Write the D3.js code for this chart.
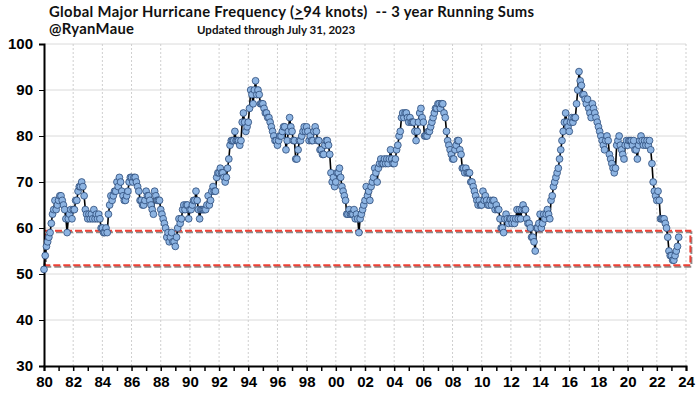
<!DOCTYPE html>
<html>
<head>
<meta charset="utf-8">
<script src="https://cdn.jsdelivr.net/npm/d3@7"></script>
<style>
  body { margin: 0; background: #fff; }
  svg { display: block; font-family: Lato, "Open Sans", sans-serif; }
  .axis text { font-size: 15px; font-weight: 700; fill: #000; }
  .axis path, .axis line { stroke: #000; }
</style>
</head>
<body>
<div id="chart"></div>
<script>
// monthly 3-year running sums of global major hurricanes, Jan 1980 .. Jul 2023
const startYear = 1980;
const runningSums = [
  51, 54, 56, 57, 58, 59, 61, 63, 64, 66, 64, 65, // 1980
  66, 67, 67, 66, 65, 64, 62, 59, 62, 63, 64, 62, // 1981
  64, 64, 66, 66, 68, 69, 69, 70, 69, 67, 64, 63, // 1982
  62, 63, 62, 63, 62, 64, 62, 63, 62, 63, 62, 60, // 1983
  60, 59, 59, 60, 59, 63, 65, 67, 66, 67, 68, 68, // 1984
  70, 69, 71, 70, 68, 67, 66, 66, 67, 68, 70, 71, // 1985
  71, 70, 71, 71, 70, 69, 68, 66, 66, 65, 65, 66, // 1986
  68, 67, 67, 66, 65, 64, 63, 68, 67, 66, 66, 66, // 1987
  64, 63, 62, 61, 60, 58, 59, 57, 58, 59, 57, 57, // 1988
  56, 58, 60, 62, 61, 62, 64, 65, 64, 65, 65, 62, // 1989
  64, 64, 65, 66, 66, 68, 66, 64, 62, 64, 64, 64, // 1990
  64, 64, 65, 67, 65, 66, 68, 69, 68, 68, 71, 72, // 1991
  72, 73, 72, 72, 71, 70, 71, 73, 75, 78, 79, 79, // 1992
  79, 81, 79, 79, 79, 78, 79, 83, 85, 83, 81, 82, // 1993
  83, 86, 90, 89, 87, 90, 92, 89, 90, 89, 87, 87, // 1994
  87, 86, 85, 85, 84, 84, 83, 82, 81, 80, 79, 79, // 1995
  78, 79, 80, 80, 81, 82, 82, 77, 79, 81, 84, 82, // 1996
  81, 79, 79, 75, 75, 77, 79, 79, 80, 81, 82, 81, // 1997
  82, 81, 79, 80, 79, 79, 81, 82, 81, 79, 79, 77, // 1998
  77, 76, 76, 78, 79, 79, 78, 76, 72, 70, 71, 69, // 1999
  70, 72, 72, 73, 71, 69, 68, 67, 66, 63, 63, 64, // 2000
  63, 63, 63, 64, 62, 63, 62, 59, 62, 63, 64, 65, // 2001
  66, 69, 67, 68, 66, 69, 70, 71, 73, 72, 70, 73, // 2002
  74, 75, 74, 74, 75, 74, 75, 74, 75, 77, 75, 74, // 2003
  74, 75, 77, 78, 80, 81, 84, 85, 84, 85, 85, 84, // 2004
  83, 84, 83, 83, 83, 81, 79, 81, 83, 85, 86, 84, // 2005
  83, 80, 80, 80, 81, 81, 82, 83, 84, 85, 86, 86, // 2006
  87, 87, 86, 87, 87, 85, 84, 81, 79, 78, 77, 76, // 2007
  75, 75, 77, 78, 79, 79, 77, 76, 73, 73, 72, 73, // 2008
  72, 72, 72, 70, 70, 69, 68, 67, 66, 65, 66, 65, // 2009
  65, 68, 66, 67, 66, 65, 65, 66, 65, 66, 66, 64, // 2010
  65, 64, 64, 62, 60, 60, 59, 62, 63, 62, 61, 62, // 2011
  62, 61, 62, 61, 62, 64, 62, 64, 62, 64, 65, 64, // 2012
  64, 62, 61, 61, 60, 58, 58, 57, 55, 60, 60, 61, // 2013
  63, 60, 61, 63, 62, 63, 64, 63, 62, 66, 67, 69, // 2014
  70, 71, 72, 73, 75, 77, 79, 81, 83, 85, 83, 82, // 2015
  81, 83, 84, 83, 84, 84, 87, 90, 94, 92, 91, 89, // 2016
  89, 88, 87, 88, 86, 85, 84, 87, 86, 85, 84, 83, // 2017
  82, 81, 80, 79, 78, 77, 79, 80, 79, 76, 75, 74, // 2018
  73, 72, 73, 78, 79, 80, 78, 77, 76, 75, 78, 79, // 2019
  78, 79, 79, 79, 78, 79, 77, 77, 75, 78, 79, 80, // 2020
  79, 78, 79, 78, 79, 78, 79, 77, 74, 70, 68, 67, // 2021
  66, 68, 66, 62, 62, 62, 62, 61, 60, 58, 55, 54, // 2022
  54, 53, 53, 54, 55, 56, 58                      // 2023
];
const yTicks = [30, 40, 50, 60, 70, 80, 90, 100];
const xLabelYears = [1980, 1982, 1984, 1986, 1988, 1990, 1992, 1994, 1996, 1998, 2000, 2002,
  2004, 2006, 2008, 2010, 2012, 2014, 2016, 2018, 2020, 2022, 2024];
const xTickLabels = ['80', '82', '84', '86', '88', '90', '92', '94', '96', '98', '00', '02',
  '04', '06', '08', '10', '12', '14', '16', '18', '20', '22', '24'];
// highlighted band (red dashed box)
const bandLow = 51.9;
const bandHigh = 59.4;

const width = 700;
const height = 394;
const margin = { top: 44, right: 14, bottom: 28, left: 44 };

const svg = d3.select('#chart')
  .append('svg')
  .attr('width', width)
  .attr('height', height);

const x = d3.scaleLinear()
  .domain([1980, 2024])
  .range([margin.left, width - margin.right]);
const y = d3.scaleLinear()
  .domain([30, 100])
  .range([height - margin.bottom, margin.top]);

const data = runningSums.map((v, i) => ({ t: startYear + i / 12, v }));

// gridlines
svg.append('g')
  .selectAll('line')
  .data(yTicks.filter(d => d > 30))
  .enter()
  .append('line')
  .attr('x1', x(1980))
  .attr('x2', x(2024))
  .attr('y1', d => y(d))
  .attr('y2', d => y(d))
  .attr('stroke', '#dadada')
  .attr('stroke-width', 1);

svg.append('g')
  .selectAll('line')
  .data(xLabelYears.slice(1))
  .enter()
  .append('line')
  .attr('x1', d => x(d))
  .attr('x2', d => x(d))
  .attr('y1', y(100))
  .attr('y2', y(30))
  .attr('stroke', '#cfcfcf')
  .attr('stroke-width', 1)
  .attr('stroke-dasharray', '2,2');

// red dashed box with gray shadow
const boxX = x(1980) + 1;
const boxW = x(2024.3) - boxX;
svg.append('rect')
  .attr('x', boxX + 1)
  .attr('y', y(bandHigh) + 1.5)
  .attr('width', boxW)
  .attr('height', y(bandLow) - y(bandHigh))
  .attr('fill', 'none')
  .attr('stroke', '#8c8c8c')
  .attr('stroke-width', 2)
  .attr('stroke-dasharray', '7,3');
svg.append('rect')
  .attr('x', boxX)
  .attr('y', y(bandHigh))
  .attr('width', boxW)
  .attr('height', y(bandLow) - y(bandHigh))
  .attr('fill', 'none')
  .attr('stroke', '#ee4035')
  .attr('stroke-width', 2)
  .attr('stroke-dasharray', '7,3');

// axes
const yAxis = d3.axisLeft(y)
  .tickValues(yTicks)
  .tickSize(5)
  .tickPadding(6)
  .tickFormat(d3.format('d'));
svg.append('g')
  .attr('class', 'axis y')
  .attr('transform', `translate(${margin.left},0)`)
  .call(yAxis)
  .call(g => g.select('.domain').attr('stroke-width', 2));

const xAxis = d3.axisBottom(x)
  .tickValues(d3.range(1980, 2025))
  .tickSize(5)
  .tickPadding(5)
  .tickFormat(d => {
    const k = xLabelYears.indexOf(d);
    return k < 0 ? '' : xTickLabels[k];
  });
svg.append('g')
  .attr('class', 'axis x')
  .attr('transform', `translate(0,${y(30)})`)
  .call(xAxis)
  .call(g => g.select('.domain').attr('stroke-width', 2))
  .call(g => g.selectAll('.tick line').attr('stroke-width', 1.5));

// series
const line = d3.line()
  .x(d => x(d.t))
  .y(d => y(d.v));

svg.append('path')
  .datum(data)
  .attr('d', line)
  .attr('fill', 'none')
  .attr('stroke', '#000')
  .attr('stroke-width', 1.6);

svg.append('g')
  .selectAll('circle')
  .data(data)
  .enter()
  .append('circle')
  .attr('cx', d => x(d.t))
  .attr('cy', d => y(d.v))
  .attr('r', 3.4)
  .attr('fill', '#8db4e2')
  .attr('stroke', '#2b4a78')
  .attr('stroke-width', 0.8);

// titles
const title = svg.append('text')
  .attr('x', 49)
  .attr('y', 17)
  .attr('font-size', 14.8)
  .attr('font-weight', 700)
  .attr('letter-spacing', 0.35)
  .style('white-space', 'pre')
  .attr('fill', '#111');
title.append('tspan').text('Global Major Hurricane Frequency (');
title.append('tspan').style('text-decoration', 'underline').text('>');
title.append('tspan').text('94 knots)  -- 3 year Running Sums');

svg.append('text')
  .attr('x', 49)
  .attr('y', 34)
  .attr('font-size', 14.8)
  .attr('font-weight', 700)
  .attr('letter-spacing', 0.3)
  .attr('fill', '#111')
  .text('@RyanMaue');

svg.append('text')
  .attr('x', 197)
  .attr('y', 34)
  .attr('font-size', 11.5)
  .attr('font-weight', 700)
  .attr('fill', '#111')
  .text('Updated through July 31, 2023');
</script>
</body>
</html>
